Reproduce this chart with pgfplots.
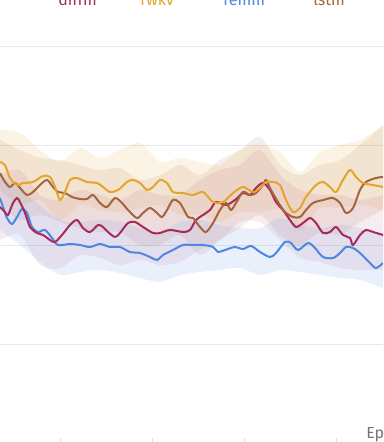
\documentclass[border=0pt]{standalone}
\usepackage{pgfplots}
\pgfplotsset{compat=1.18}
\usepackage{pgfplotstable}
\usepgfplotslibrary{fillbetween}
\usepackage{fontspec}
\setmainfont{Fira Sans}

\definecolor{cdiff}{HTML}{A8295C}
\definecolor{crwkv}{HTML}{E3A52A}
\definecolor{crem}{HTML}{4E86E0}
\definecolor{clstm}{HTML}{A5643E}

% y values are read off the picture from the top (y dir=reverse)
\pgfplotstableread{
x   y
0   162
5   165
10  178
17  185
23  183
33  182
43  176
50  177
55  187
60  200
65  192
70  180
77  178
87  182
97  183
103 187
110 192
118 190
127 182
133 180
140 183
147 190
153 187
160 180
167 183
173 192
183 193
193 195
203 192
213 202
223 202
233 193
243 187
253 192
260 188
266 182
273 182
280 185
286 200
293 212
300 208
306 197
316 185
323 182
330 187
336 192
343 180
350 170
356 177
363 183
373 185
383 187
}\rwkv

\pgfplotstableread{
x   y
0   173
5   182
10  187
15  183
20  188
27  195
33  192
40  185
47  180
53  187
58  192
65  193
72  197
80  199
87  199
93  195
100 203
107 207
115 198
122 203
128 210
137 218
143 213
150 208
157 213
162 217
167 210
173 200
180 203
188 217
193 218
200 227
206 232
213 223
220 210
226 203
231 210
236 203
243 192
250 195
256 193
263 185
266 180
271 190
278 202
285 212
293 217
300 217
306 210
313 203
323 200
333 198
340 203
346 213
353 208
360 190
366 182
376 178
383 177
}\lstm

\pgfplotstableread{
x   y
0   207
5   212
8   215
13  203
17  198
20  202
25  213
30  227
37  233
43  235
50  240
55  242
62  235
70  225
77  220
83  228
90  232
98  225
103 227
108 232
115 237
120 233
128 223
135 222
143 227
153 233
160 233
170 230
183 232
190 230
196 220
203 215
210 210
216 202
226 205
235 200
243 193
250 195
256 188
263 183
270 190
276 202
283 210
290 220
296 227
303 223
310 218
316 223
323 233
330 232
336 227
343 235
350 238
353 245
360 235
366 230
373 232
383 235
}\diffm

\pgfplotstableread{
x   y
0   198
3   207
7   218
12  224
17  217
22  209
27  213
32  227
38  232
45  230
52  238
58  245
70  244
80  245
90  247
100 244
110 247
120 247
130 252
140 253
150 257
157 260
163 255
173 250
183 245
193 245
203 245
213 247
218 252
225 250
235 247
243 249
251 246
260 252
270 257
276 253
285 242
291 243
298 250
308 243
315 248
323 257
333 258
340 253
346 247
353 248
360 253
370 263
376 268
383 263
}\remm

% min / max bands
\pgfplotstableread{
x   rh  rl  lh  ll  dh  dl  bh  bl
0   130 190 140 205 175 240 175 230
20  133 205 150 220 170 235 190 245
40  150 200 158 215 195 265 205 262
60  162 220 160 222 200 268 220 275
80  148 205 165 228 190 255 222 272
100 158 210 170 232 195 258 220 270
120 150 212 168 232 200 265 222 273
140 143 208 180 245 190 260 228 278
160 162 205 175 245 195 265 232 282
180 158 215 165 235 195 262 222 275
200 162 215 175 255 180 250 220 272
220 165 222 160 240 170 240 225 270
240 150 212 150 228 165 222 228 268
260 145 212 137 215 150 222 228 275
280 152 210 165 235 175 240 218 270
300 172 230 175 245 190 258 225 272
320 152 208 165 232 195 262 228 275
340 145 208 160 235 195 268 225 278
360 140 205 145 222 200 270 228 280
383 126 210 125 210 195 270 235 288
}\bands

\begin{document}
\begin{tikzpicture}
\begin{axis}[
    scale only axis,
    width=287.25pt, height=298.5pt,
    at={(0pt,3pt)}, anchor=south west,
    xmin=0, xmax=383, ymin=40, ymax=438, y dir=reverse,
    axis line style={draw=none},
    xtick={60,152,244,336}, xticklabels={},
    xtick pos=bottom, tick align=outside, major tick length=3.75pt,
    xtick style={color=black!14, line width=0.75pt},
    ytick={47,146,246,345}, yticklabels={},
    ytick style={draw=none},
    ymajorgrids, grid style={color=black!9, line width=0.75pt},
]
\addplot[name path=rh, draw=none, smooth] table[x=x,y=rh]{\bands};
\addplot[name path=rl, draw=none, smooth] table[x=x,y=rl]{\bands};
\addplot[crwkv, fill opacity=0.13, draw=none] fill between[of=rh and rl];
\addplot[name path=lh, draw=none, smooth] table[x=x,y=lh]{\bands};
\addplot[name path=ll, draw=none, smooth] table[x=x,y=ll]{\bands};
\addplot[clstm, fill opacity=0.11, draw=none] fill between[of=lh and ll];
\addplot[name path=dh, draw=none, smooth] table[x=x,y=dh]{\bands};
\addplot[name path=dl, draw=none, smooth] table[x=x,y=dl]{\bands};
\addplot[cdiff, fill opacity=0.09, draw=none] fill between[of=dh and dl];
\addplot[name path=bh, draw=none, smooth] table[x=x,y=bh]{\bands};
\addplot[name path=bl, draw=none, smooth] table[x=x,y=bl]{\bands};
\addplot[crem, fill opacity=0.12, draw=none] fill between[of=bh and bl];

\addplot[crem, line width=1.5pt, smooth, mark=none] table[x=x,y=y]{\remm};
\addplot[cdiff, line width=1.5pt, smooth, mark=none] table[x=x,y=y]{\diffm};
\addplot[clstm, line width=1.5pt, smooth, mark=none] table[x=x,y=y]{\lstm};
\addplot[crwkv, line width=1.5pt, smooth, mark=none] table[x=x,y=y]{\rwkv};
\end{axis}
\begin{scope}[font=\fontsize{12}{14}\selectfont]
\node[anchor=base west, inner sep=0, text=cdiff] at (43.5pt,327pt) {diffm};
\node[anchor=base west, inner sep=0, text=crwkv] at (105pt,327pt) {rwkv};
\node[anchor=base west, inner sep=0, text=crem] at (167.25pt,327pt) {remm};
\node[anchor=base west, inner sep=0, text=clstm] at (234.75pt,327pt) {lstm};
\node[anchor=base west, inner sep=0, text=black!55] at (274.5pt,2.25pt) {Epoch};
\end{scope}
\pgfresetboundingbox
\useasboundingbox (0,0) rectangle (287.25pt,331.5pt);
\end{tikzpicture}
\end{document}
